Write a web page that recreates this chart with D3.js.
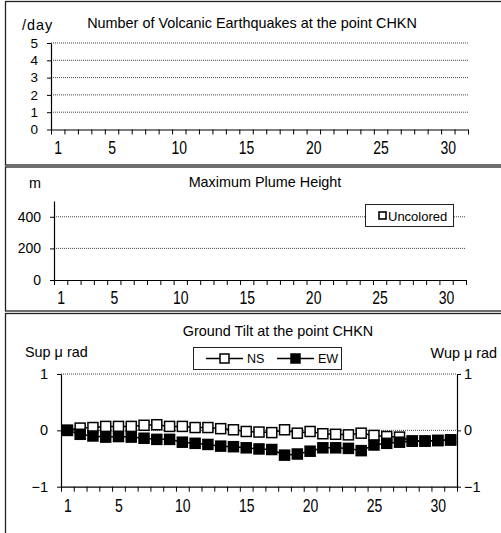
<!DOCTYPE html>
<html><head><meta charset="utf-8">
<script src="https://cdn.jsdelivr.net/npm/d3@7"></script>
<style>
html,body{margin:0;padding:0;background:#fff;}
svg{display:block;font-family:"Liberation Sans",Arial,sans-serif;}
</style></head>
<body>
<svg id="c" width="501" height="533"></svg>
<script>
const days = [1,2,3,4,5,6,7,8,9,10,11,12,13,14,15,16,17,18,19,20,21,22,23,24,25,26,27,28,29,30,31];
const dayLabels = [1,5,10,15,20,25,30];
const quakeCounts = [0,0,0,0,0,0,0,0,0,0,0,0,0,0,0,0,0,0,0,0,0,0,0,0,0,0,0,0,0,0,0];
const quakeTicks = [0,1,2,3,4,5];
const plumeHeights = [null,null,null,null,null,null,null,null,null,null,null,null,null,null,null,null,null,null,null,null,null,null,null,null,null,null,null,null,null,null,null];
const plumeTicks = [0,200,400];
const tiltNS = [0,0.04,0.05,0.07,0.07,0.07,0.09,0.10,0.07,0.07,0.05,0.05,0.03,0.01,-0.02,-0.03,-0.04,0.01,-0.05,-0.02,-0.06,-0.07,-0.08,-0.05,-0.09,-0.11,-0.12,-0.19,-0.19,-0.18,-0.17];
const tiltEW = [0,-0.07,-0.10,-0.12,-0.11,-0.12,-0.14,-0.16,-0.16,-0.21,-0.23,-0.25,-0.28,-0.29,-0.31,-0.33,-0.34,-0.44,-0.42,-0.37,-0.31,-0.31,-0.32,-0.36,-0.26,-0.23,-0.21,-0.19,-0.19,-0.18,-0.17];
const tiltTicks = [-1,0,1];

const svg = d3.select("#c");
const FS = 14.4;

// panel frames
[[1.5,165],[167,311],[313.5,560]].forEach(([t,b])=>{
  svg.append("rect").attr("x",5.5).attr("y",t).attr("width",520).attr("height",b-t)
    .attr("fill","none").attr("stroke","#222").attr("stroke-width",1.3);
});

const boundaries = d3.range(0.5, 32, 1);

function xAxisBlock(g, x, y0, labelOff){
  g.append("g").attr("transform",`translate(0,${y0})`)
    .call(d3.axisBottom(x).tickValues(boundaries).tickSize(5).tickFormat("").tickSizeOuter(0))
    .call(s=>{s.select(".domain").attr("stroke","#000").attr("stroke-width",1.2);
              s.selectAll(".tick line").attr("stroke","#000");});
  const lab = g.append("g").attr("transform",`translate(0,${y0})`)
    .call(d3.axisBottom(x).tickValues(dayLabels).tickSize(0).tickFormat(d3.format("d")));
  lab.select(".domain").remove();
  lab.selectAll("text").attr("y",0).attr("dy",null).attr("dominant-baseline","central")
    .attr("font-size",14).attr("font-family","Liberation Sans, Arial, sans-serif").attr("fill","#000")
    .attr("transform",`translate(0,${labelOff}) scale(1,1.35)`);
}

function yAxisBlock(g, y, x0, ticks, side, fmt, fs){
  const ax = side==="left" ? d3.axisLeft(y) : d3.axisRight(y);
  const a = g.append("g").attr("transform",`translate(${x0},0)`)
    .call(ax.tickValues(ticks).tickSize(4).tickPadding(side==="left"?9:3).tickSizeOuter(0).tickFormat(fmt));
  a.select(".domain").attr("stroke","#000").attr("stroke-width",1.2);
  a.selectAll(".tick line").attr("stroke","#000");
  a.selectAll("text").attr("font-size",fs).attr("font-family","Liberation Sans, Arial, sans-serif").attr("fill","#000");
  return a;
}

function grid(g, y, vals, x1, x2){
  g.selectAll(null).data(vals).join("line")
    .attr("x1",x1).attr("x2",x2).attr("y1",d=>y(d)).attr("y2",d=>y(d))
    .attr("stroke","#444").attr("stroke-width",1).attr("stroke-dasharray","1,1");
}

const minusFmt = d => d<0 ? "\u22121" : String(d);

// ---------- Panel 1: earthquakes ----------
{
  const g = svg.append("g");
  const x = d3.scaleLinear().domain([0.5,31.5]).range([51,468]);
  const y = d3.scaleLinear().domain([0,5]).range([129.5,43]);
  grid(g, y, [1,2,3,4,5], 51, 468);
  g.selectAll(null).data(days).join("rect")
    .attr("x",(d,i)=>x(d)-4).attr("width",8)
    .attr("y",(d,i)=>y(quakeCounts[i])).attr("height",(d,i)=>y(0)-y(quakeCounts[i]))
    .attr("fill","#000");
  yAxisBlock(g, y, 51, quakeTicks, "left", d3.format("d"), 13.5);
  xAxisBlock(g, x, 129.5, 18);
  g.append("text").attr("x",252).attr("y",23).attr("text-anchor","middle").attr("dominant-baseline","central")
    .attr("font-size",FS).text("Number of Volcanic Earthquakes at the point CHKN");
  g.append("text").attr("x",22).attr("y",25).attr("dominant-baseline","central")
    .attr("font-size",FS).attr("letter-spacing",1).text("/day");
}

// ---------- Panel 2: plume ----------
{
  const g = svg.append("g");
  const x = d3.scaleLinear().domain([0.5,31.5]).range([54,466]);
  const y = d3.scaleLinear().domain([0,500]).range([280,201]);
  grid(g, y, [200,400], 54, 466);
  g.selectAll(null).data(days.filter((d,i)=>plumeHeights[i]!=null)).join("rect")
    .attr("x",d=>x(d)-4).attr("width",8)
    .attr("y",d=>y(plumeHeights[d-1])).attr("height",d=>y(0)-y(plumeHeights[d-1]))
    .attr("fill","#fff").attr("stroke","#000");
  yAxisBlock(g, y, 54, plumeTicks, "left", d3.format("d"), 14);
  xAxisBlock(g, x, 280, 18);
  g.append("text").attr("x",265).attr("y",182).attr("text-anchor","middle").attr("dominant-baseline","central")
    .attr("font-size",FS).text("Maximum Plume Height");
  g.append("text").attr("x",35).attr("y",183).attr("text-anchor","middle").attr("dominant-baseline","central")
    .attr("font-size",FS).text("m");
  // legend
  g.append("rect").attr("x",365.5).attr("y",204.5).attr("width",88).attr("height",22)
    .attr("fill","#fff").attr("stroke","#222").attr("stroke-width",1);
  g.append("rect").attr("x",379).attr("y",212).attr("width",7).attr("height",7)
    .attr("fill","#fff").attr("stroke","#000").attr("stroke-width",1.6);
  g.append("text").attr("x",388).attr("y",216).attr("dominant-baseline","central")
    .attr("font-size",13).text("Uncolored");
}

// ---------- Panel 3: tilt ----------
{
  const g = svg.append("g");
  const x = d3.scaleLinear().domain([0.5,31.5]).range([61,457]);
  const y = d3.scaleLinear().domain([-1,1]).range([486.7,374]);
  grid(g, y, [0,1], 61, 457);
  yAxisBlock(g, y, 61, tiltTicks, "left", minusFmt, 14.5);
  yAxisBlock(g, y, 457, tiltTicks, "right", minusFmt, 14.5);
  xAxisBlock(g, x, 486.7, 19);
  const line = d3.line().x((d,i)=>x(days[i])).y(d=>y(d));
  const S = 10;
  g.append("path").datum(tiltNS).attr("d",line).attr("fill","none").attr("stroke","#000").attr("stroke-width",1.5);
  g.selectAll(null).data(tiltNS).join("rect")
    .attr("x",(d,i)=>x(days[i])-S/2).attr("y",d=>y(d)-S/2).attr("width",S).attr("height",S)
    .attr("fill","#fff").attr("stroke","#000").attr("stroke-width",1.5);
  g.append("path").datum(tiltEW).attr("d",line).attr("fill","none").attr("stroke","#000").attr("stroke-width",1.5);
  g.selectAll(null).data(tiltEW).join("rect")
    .attr("x",(d,i)=>x(days[i])-S/2).attr("y",d=>y(d)-S/2).attr("width",S).attr("height",S)
    .attr("fill","#000").attr("stroke","#000").attr("stroke-width",1.5);
  g.append("text").attr("x",278).attr("y",331).attr("text-anchor","middle").attr("dominant-baseline","central")
    .attr("font-size",FS).text("Ground Tilt at the point CHKN");
  g.append("text").attr("x",25).attr("y",352).attr("dominant-baseline","central")
    .attr("font-size",FS).text("Sup \u03BC rad");
  g.append("text").attr("x",497).attr("y",353).attr("text-anchor","end").attr("dominant-baseline","central")
    .attr("font-size",FS).text("Wup \u03BC rad");
  // legend
  g.append("rect").attr("x",193.5).attr("y",347.5).attr("width",148).attr("height",22)
    .attr("fill","#fff").attr("stroke","#222").attr("stroke-width",1);
  const leg = [{name:"NS",fill:"#fff",x0:206},{name:"EW",fill:"#000",x0:277}];
  leg.forEach(l=>{
    g.append("line").attr("x1",l.x0).attr("x2",l.x0+37).attr("y1",358.5).attr("y2",358.5)
      .attr("stroke","#000").attr("stroke-width",1.5);
    g.append("rect").attr("x",l.x0+18.5-4.5).attr("y",354).attr("width",9).attr("height",9)
      .attr("fill",l.fill).attr("stroke","#000").attr("stroke-width",1.5);
    g.append("text").attr("x",l.x0+41).attr("y",359).attr("dominant-baseline","central")
      .attr("font-size",12.5).text(l.name);
  });
}
</script>
</body></html>
